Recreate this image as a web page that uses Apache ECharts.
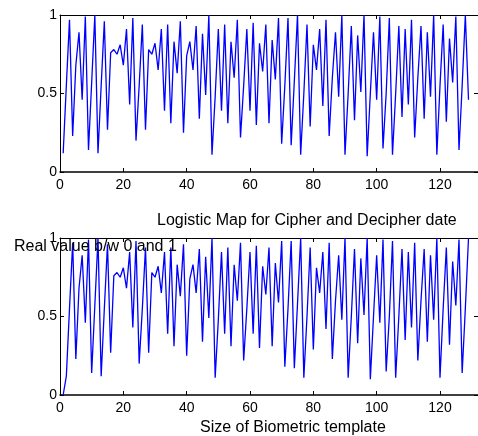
<!DOCTYPE html>
<html>
<head>
<meta charset="utf-8">
<title>Logistic Map</title>
<script src="https://cdn.jsdelivr.net/npm/echarts@6/dist/echarts.min.js"></script>
<style>
  html, body { margin: 0; padding: 0; background: #fff; }
  #chart { width: 478px; height: 436px; }
</style>
</head>
<body>
<div id="chart"></div>
<script>
// cipher sequence (top panel), sample index starts at 1
const cipherValues = [
  0.12, 0.55, 0.97, 0.23, 0.68, 0.89, 0.46, 0.99, 0.14, 0.57,
  1.00, 0.12, 0.55, 0.96, 0.27, 0.76, 0.78, 0.75, 0.81, 0.68,
  0.91, 0.43, 0.98, 0.20, 0.55, 0.94, 0.27, 0.78, 0.75, 0.82,
  0.65, 0.91, 0.39, 0.94, 0.31, 0.83, 0.63, 0.96, 0.25, 0.74,
  0.83, 0.65, 0.93, 0.34, 0.88, 0.49, 1.00, 0.11, 0.48, 0.91,
  0.39, 0.94, 0.31, 0.83, 0.60, 0.97, 0.22, 0.55, 0.91, 0.39,
  0.95, 0.30, 0.82, 0.64, 0.94, 0.31, 0.84, 0.59, 0.98, 0.18,
  0.55, 0.98, 0.17, 0.58, 1.00, 0.11, 0.50, 0.94, 0.29, 0.81,
  0.65, 0.91, 0.42, 0.97, 0.23, 0.60, 0.89, 0.48, 1.00, 0.11,
  0.50, 0.93, 0.33, 0.87, 0.51, 1.00, 0.10, 0.50, 0.89, 0.46,
  0.99, 0.15, 0.50, 0.98, 0.11, 0.50, 0.93, 0.35, 0.91, 0.43,
  0.97, 0.22, 0.60, 0.93, 0.34, 0.89, 0.48, 1.00, 0.11, 0.55,
  0.94, 0.32, 0.85, 0.57, 0.99, 0.14, 0.55, 1.00, 0.46
];

// decipher sequence (bottom panel)
const decipherValues = [
  0.00, 0.12, 0.55, 0.97, 0.23, 0.68, 0.89, 0.46, 0.99, 0.14,
  0.57, 1.00, 0.12, 0.55, 0.96, 0.27, 0.76, 0.78, 0.75, 0.81,
  0.68, 0.91, 0.43, 0.98, 0.20, 0.55, 0.94, 0.27, 0.78, 0.75,
  0.82, 0.65, 0.91, 0.39, 0.94, 0.31, 0.83, 0.63, 0.96, 0.25,
  0.74, 0.83, 0.65, 0.93, 0.34, 0.88, 0.49, 1.00, 0.11, 0.48,
  0.91, 0.39, 0.94, 0.31, 0.83, 0.60, 0.97, 0.22, 0.55, 0.91,
  0.39, 0.95, 0.30, 0.82, 0.64, 0.94, 0.31, 0.84, 0.59, 0.98,
  0.18, 0.55, 0.98, 0.17, 0.58, 1.00, 0.11, 0.50, 0.94, 0.29,
  0.81, 0.65, 0.91, 0.42, 0.97, 0.23, 0.60, 0.89, 0.48, 1.00,
  0.11, 0.50, 0.93, 0.33, 0.87, 0.51, 1.00, 0.10, 0.50, 0.89,
  0.46, 0.99, 0.15, 0.50, 0.98, 0.11, 0.50, 0.93, 0.35, 0.91,
  0.43, 0.97, 0.22, 0.60, 0.93, 0.34, 0.89, 0.48, 1.00, 0.11,
  0.55, 0.94, 0.32, 0.85, 0.57, 0.99, 0.14, 0.55, 1.00
];

const xTicks = { min: 0, max: 132, interval: 20 };
const yTicks = { min: 0, max: 1, interval: 0.5 };

const titleText = 'Logistic Map for Cipher and Decipher date';
const yLabelText = 'Real value b/w 0 and 1';
const xLabelText = 'Size of Biometric template';

const FONT = '"Liberation Sans", Arial, sans-serif';

const toPoints = (values) => values.map((v, i) => [i + 1, v]);

const lineStyle = { color: '#000', width: 1 };
const tickStyle = { show: true, inside: true, length: 4, lineStyle: { color: '#000' } };

const makeX = (gridIndex, position, withLabels) => ({
  type: 'value',
  gridIndex,
  position,
  min: xTicks.min,
  max: xTicks.max,
  interval: xTicks.interval,
  axisLine: { show: true, onZero: false, lineStyle: position === 'bottom' ? { color: '#000', width: 1.5 } : lineStyle },
  axisTick: tickStyle,
  axisLabel: {
    show: withLabels,
    showMaxLabel: false,
    margin: 6,
    color: '#000',
    fontSize: 14,
    fontFamily: FONT,
  },
  splitLine: { show: false },
});

const makeY = (gridIndex, position, withLabels) => ({
  type: 'value',
  gridIndex,
  position,
  min: yTicks.min,
  max: yTicks.max,
  interval: yTicks.interval,
  axisLine: { show: true, onZero: false, lineStyle },
  axisTick: tickStyle,
  axisLabel: {
    show: withLabels,
    margin: 3,
    color: '#000',
    fontSize: 14,
    fontFamily: FONT,
  },
  splitLine: { show: false },
});

const textStyle = { color: '#000', fontSize: 16, fontWeight: 'normal', fontFamily: FONT };

const option = {
  animation: false,
  backgroundColor: '#fff',
  title: [
    { text: titleText, left: 157, top: 213, padding: 0, textStyle },
    { text: yLabelText, left: 14, top: 239, padding: 0, textStyle },
    { text: xLabelText, left: 200, top: 420, padding: 0, textStyle },
  ],
  grid: [
    { left: 60, top: 15, width: 419, height: 157 },
    { left: 60, top: 238, width: 419, height: 157 },
  ],
  xAxis: [
    makeX(0, 'bottom', true),
    makeX(0, 'top', false),
    makeX(1, 'bottom', true),
    makeX(1, 'top', false),
  ],
  yAxis: [
    makeY(0, 'left', true),
    makeY(0, 'right', false),
    makeY(1, 'left', true),
    makeY(1, 'right', false),
  ],
  series: [
    {
      type: 'line',
      xAxisIndex: 0,
      yAxisIndex: 0,
      data: toPoints(cipherValues),
      showSymbol: false,
      lineStyle: { color: '#0000ff', width: 1.3 },
    },
    {
      type: 'line',
      xAxisIndex: 2,
      yAxisIndex: 2,
      data: toPoints(decipherValues),
      showSymbol: false,
      lineStyle: { color: '#0000ff', width: 1.3 },
    },
  ],
};

const chart = echarts.init(document.getElementById('chart'));
chart.setOption(option);
</script>
</body>
</html>
